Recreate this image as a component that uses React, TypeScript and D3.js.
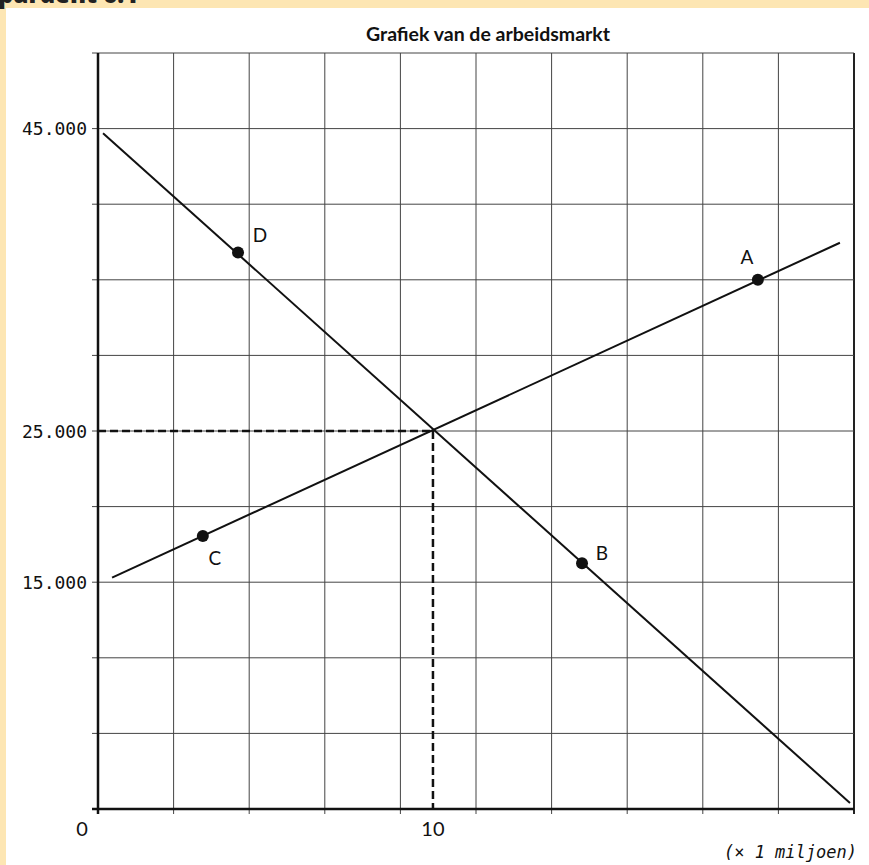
import React from "react";
import * as d3 from "d3";

// arbeidsmarkt: loon (y) tegen aantal arbeidskrachten (x, × 1 miljoen)
const xMax = 22.57;
const yMax = 50000;
const gridCount = 10;

const yLabelValues = [15000, 25000, 45000];
const xLabelValues = [0, 10];

const demandLine = [
  { x: 0.15, y: 44700 },
  { x: 22.45, y: 400 },
];
const supplyLine = [
  { x: 0.42, y: 15300 },
  { x: 22.15, y: 37450 },
];

const equilibrium = { x: 10, y: 25000 };

const pointNames = ["A", "B", "C", "D"];
const pointX = [19.7, 14.45, 3.13, 4.18];
const pointY = [35000, 16250, 18050, 36800];

// label offsets (px) from each point
const labelOffset: Record<string, [number, number]> = {
  A: [-11, -23],
  B: [20, -11],
  C: [12, 21],
  D: [22, -18],
};

const W = 869;
const H = 865;
const left = 98;
const right = 854;
const top = 53;
const bottom = 809;

const beige = "#fde6b3";
const gridColor = "#444";
const mono = "'DejaVu Sans Mono', monospace";
const sans = "Lato, 'Open Sans', sans-serif";

export default function App() {
  const x = d3.scaleLinear().domain([0, xMax]).range([left, right]);
  const y = d3.scaleLinear().domain([0, yMax]).range([bottom, top]);

  const xGrid = d3.range(gridCount + 1).map((i) => (xMax / gridCount) * i);
  const yGrid = d3.range(gridCount + 1).map((i) => (yMax / gridCount) * i);

  const line = d3
    .line<{ x: number; y: number }>()
    .x((d) => x(d.x))
    .y((d) => y(d.y));

  const points = pointNames.map((name, i) => ({ name, x: pointX[i], y: pointY[i] }));

  return (
    <div style={{ position: "absolute", left: 0, top: 0 }}>
      <svg width={W} height={H} style={{ display: "block" }}>
        <rect x={0} y={0} width={W} height={H} fill={beige} />
        <rect x={6} y={8} width={W - 6} height={H - 8} fill="#fff" />
        <text
          x={-2}
          y={3}
          fontFamily="'Open Sans', sans-serif"
          fontWeight={800}
          fontSize={24}
          fill="#222"
        >
          pardent 6.1
        </text>

        <text
          x={488}
          y={41}
          textAnchor="middle"
          fontFamily={sans}
          fontWeight={700}
          fontSize={19.5}
          fill="#111"
        >
          Grafiek van de arbeidsmarkt
        </text>

        {/* grid */}
        <g stroke={gridColor} strokeWidth={1}>
          {xGrid.slice(1).map((v, i) => (
            <line
              key={"gx" + i}
              x1={x(v)}
              x2={x(v)}
              y1={top}
              y2={bottom + 5}
              strokeWidth={i === gridCount - 1 ? 2 : 1}
              stroke={i === gridCount - 1 ? "#222" : gridColor}
            />
          ))}
          {yGrid.slice(1).map((v, i) => (
            <line key={"gy" + i} x1={left - 6} x2={right} y1={y(v)} y2={y(v)} />
          ))}
        </g>

        {/* axes */}
        <line x1={left} x2={left} y1={top} y2={bottom + 5} stroke="#111" strokeWidth={2.5} />
        <line x1={left - 6} x2={right} y1={bottom} y2={bottom} stroke="#111" strokeWidth={2.5} />

        {/* dashed guides to equilibrium */}
        <g stroke="#111" strokeWidth={2.5} strokeDasharray="8,4">
          <line x1={left} x2={x(equilibrium.x)} y1={y(equilibrium.y)} y2={y(equilibrium.y)} />
          <line x1={x(equilibrium.x)} x2={x(equilibrium.x)} y1={y(equilibrium.y)} y2={bottom} />
        </g>

        {/* curves */}
        <path d={line(demandLine) ?? ""} fill="none" stroke="#111" strokeWidth={2} />
        <path d={line(supplyLine) ?? ""} fill="none" stroke="#111" strokeWidth={2} />

        {points.map((p) => (
          <g key={p.name}>
            <circle cx={x(p.x)} cy={y(p.y)} r={6} fill="#111" />
            <text
              x={x(p.x) + labelOffset[p.name][0]}
              y={y(p.y) + labelOffset[p.name][1]}
              textAnchor="middle"
              dominantBaseline="central"
              fontFamily={sans}
              fontSize={19}
              fill="#111"
            >
              {p.name}
            </text>
          </g>
        ))}

        {/* y labels */}
        {yLabelValues.map((v) => (
          <text
            key={v}
            x={left - 11}
            y={y(v)}
            textAnchor="end"
            dominantBaseline="central"
            fontFamily={mono}
            fontSize={18}
            fill="#111"
          >
            {d3.format(",")(v).replace(",", ".")}
          </text>
        ))}

        {/* x labels */}
        {xLabelValues.map((v) => (
          <text
            key={v}
            x={v === 0 ? left - 16 : x(v)}
            y={836}
            textAnchor="middle"
            fontFamily={sans}
            fontSize={20}
            fill="#111"
          >
            {v}
          </text>
        ))}

        <text
          x={857}
          y={858}
          textAnchor="end"
          fontFamily={mono}
          fontStyle="italic"
          fontSize={17}
          fill="#111"
        >
          (× 1 miljoen)
        </text>
      </svg>
    </div>
  );
}
